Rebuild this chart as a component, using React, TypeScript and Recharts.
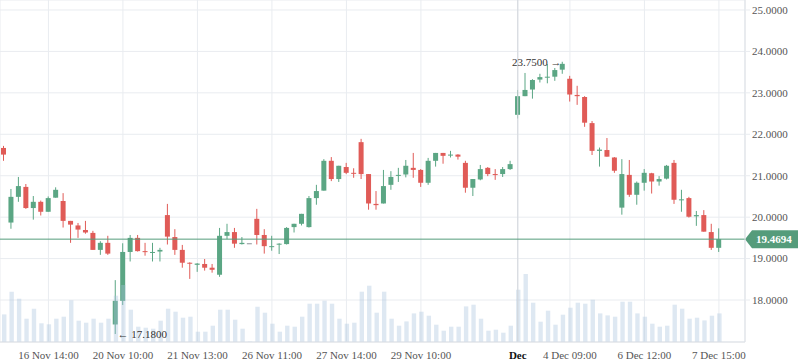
import {
  ComposedChart,
  Bar,
  XAxis,
  YAxis,
  CartesianGrid,
  ReferenceLine,
  ReferenceDot,
} from "recharts";

const UP = "#5ba684";
const DOWN = "#e05b57";
const FLAT = "#8d9299";
const LINE = "#559c7b";
const GRID = "#e9ecf0";
const AXIS = "#dde1e6";
const TEXT = "#555";
const FONT = "'Liberation Serif', 'Times New Roman', serif";
const LAST_PRICE = 19.4694;

const opens = [
  21.67, 19.87, 20.49, 20.73, 20.22, 20.37, 20.13, 20.47, 20.39, 19.91,
  19.8, 19.69, 19.62, 19.21, 19.38, 17.41, 17.98, 19.16, 19.5, 19.18,
  19.14, 19.17, 20.05, 19.52, 19.21, 18.9, 18.85, 18.87, 18.78, 18.61,
  19.55, 19.64, 19.35, 19.37, 19.96, 19.57, 19.28, 19.34, 19.35, 19.76,
  19.84, 19.76, 20.46, 20.64, 21.36, 20.92, 21.21, 21.07, 21.81, 21.04,
  20.32, 20.33, 20.78, 21.0, 21.03, 21.19, 21.14, 20.83, 21.36, 21.55,
  21.49, 21.51, 21.31, 20.71, 20.91, 21.19, 21.04, 21.04, 21.16, 22.47,
  22.92, 23.08, 23.32, 23.38, 23.39, 23.56, 23.34, 22.95, 22.9, 22.27,
  21.6, 21.62, 21.44, 20.23, 21.02, 20.54, 20.83, 21.06, 20.86, 20.93,
  21.31, 20.41, 20.46, 20.02, 20.05, 19.64, 19.26,
];
const highs = [
  21.72, 20.68, 20.97, 20.8, 20.51, 20.4, 20.5, 20.72, 20.58, 19.91,
  19.86, 19.91, 19.67, 19.42, 19.55, 18.48, 19.37, 19.57, 19.57, 19.38,
  19.38, 19.26, 20.32, 19.71, 19.33, 18.91, 18.89, 18.99, 18.87, 19.74,
  19.84, 19.74, 19.52, 19.37, 20.2, 19.71, 19.55, 19.37, 19.76, 19.84,
  20.08, 20.51, 20.78, 21.4, 21.45, 21.24, 21.31, 21.18, 21.89, 21.04,
  20.63, 21.14, 21.11, 21.19, 21.38, 21.55, 21.16, 21.43, 21.55, 21.55,
  21.6, 21.52, 21.36, 20.92, 21.26, 21.21, 21.16, 21.21, 21.36, 23.07,
  23.48, 23.33, 23.46, 23.7, 23.6, 23.75, 23.41, 23.17, 22.92, 22.32,
  21.68, 21.91, 21.45, 21.4, 21.38, 20.86, 21.16, 21.07, 20.99, 21.26,
  21.38, 20.66, 20.49, 20.15, 20.17, 19.84, 19.73,
];
const lows = [
  21.36, 19.72, 20.37, 20.2, 19.94, 20.04, 20.13, 20.47, 19.75, 19.38,
  19.5, 19.6, 19.21, 19.09, 19.09, 17.18, 17.88, 18.93, 19.17, 19.07,
  18.93, 18.93, 19.34, 19.09, 18.78, 18.51, 18.68, 18.71, 18.66, 18.56,
  19.47, 19.26, 19.34, 19.37, 19.34, 19.12, 19.19, 19.11, 19.34, 19.63,
  19.8, 19.75, 20.3, 20.64, 20.87, 20.85, 21.04, 20.95, 20.92, 20.18,
  20.18, 20.33, 20.66, 20.85, 20.96, 20.95, 20.73, 20.78, 21.22, 21.29,
  21.44, 21.39, 20.59, 20.51, 20.89, 20.99, 20.9, 20.97, 21.14, 22.38,
  22.92, 22.86, 23.25, 23.23, 23.29, 23.46, 22.79, 22.71, 22.18, 21.5,
  21.22, 21.46, 21.07, 20.06, 20.49, 20.3, 20.64, 20.57, 20.76, 20.91,
  20.32, 20.13, 19.99, 19.79, 19.65, 19.21, 19.16,
];
const closes = [
  21.51, 20.49, 20.75, 20.22, 20.37, 20.13, 20.46, 20.66, 19.91, 19.82,
  19.7, 19.63, 19.21, 19.38, 19.12, 17.98, 19.16, 19.5, 19.18, 19.17,
  19.16, 19.21, 19.53, 19.21, 18.9, 18.88, 18.88, 18.78, 18.73, 19.55,
  19.64, 19.36, 19.38, 19.37, 19.57, 19.3, 19.3, 19.36, 19.74, 19.84,
  20.08, 20.46, 20.63, 21.36, 20.92, 21.24, 21.07, 21.05, 21.04, 20.33,
  20.29, 20.75, 20.97, 21.02, 21.24, 21.14, 20.83, 21.36, 21.55, 21.48,
  21.51, 21.46, 20.71, 20.92, 21.16, 21.04, 21.03, 21.16, 21.28, 22.92,
  23.07, 23.31, 23.38, 23.39, 23.55, 23.7, 22.96, 22.92, 22.28, 21.6,
  21.63, 21.46, 21.12, 21.04, 20.54, 20.83, 21.07, 20.86, 20.92, 21.24,
  20.42, 20.43, 20.01, 20.05, 19.65, 19.26, 19.4694,
];
// volume in thousands
const volumes = [
  276, 503, 433, 233, 333, 187, 177, 233, 253, 417,
  213, 193, 233, 193, 233, 463, 570, 323, 153, 143,
  133, 213, 333, 303, 243, 253, 103, 103, 163, 323,
  323, 223, 133, 5, 353, 293, 183, 103, 163, 153,
  253, 383, 383, 413, 383, 233, 183, 193, 503, 563,
  293, 503, 233, 163, 206, 286, 303, 263, 173, 113,
  153, 153, 356, 373, 233, 113, 123, 93, 163, 523,
  680, 393, 203, 313, 173, 273, 343, 393, 383, 423,
  286, 266, 253, 403, 403, 286, 253, 183, 153, 163,
  373, 333, 233, 243, 216, 263, 286,
];

const tickIndex = [6, 16, 26, 36, 46, 56, 69, 76, 86, 96];
const tickLabels = [
  "16 Nov 14:00",
  "20 Nov 10:00",
  "21 Nov 13:00",
  "26 Nov 11:00",
  "27 Nov 14:00",
  "29 Nov 10:00",
  "Dec",
  "4 Dec 09:00",
  "6 Dec 12:00",
  "7 Dec 15:00",
];
const priceTicks = [18, 19, 20, 21, 22, 23, 24, 25];

const SLOTS = 100;
const data = Array.from({ length: SLOTS }, (_, i) =>
  i < opens.length
    ? { i, open: opens[i], high: highs[i], low: lows[i], close: closes[i], vol: volumes[i] }
    : { i }
);

function Candle(props: any) {
  const { x, y, width, height, payload } = props;
  if (payload == null || payload.open == null) return null;
  const { open, high, low, close } = payload;
  const top = Math.min(y, y + height);
  const span = Math.abs(height);
  const py = (v: number) => (high === low ? top : top + ((high - v) / (high - low)) * span);
  const color = close > open ? UP : close < open ? DOWN : FLAT;
  const cx = x + width / 2;
  const bTop = py(Math.max(open, close));
  const bH = Math.max(1, py(Math.min(open, close)) - bTop);
  return (
    <g>
      <line x1={cx} x2={cx} y1={py(high)} y2={py(low)} stroke={color} strokeWidth={1} />
      <rect x={x} y={bTop} width={width} height={bH} fill={color} />
    </g>
  );
}

function XTick(props: any) {
  const { x, y, payload } = props;
  const label = tickLabels[tickIndex.indexOf(payload.value)];
  const month = label === "Dec";
  return (
    <text
      x={x}
      y={y}
      dy="0.71em"
      textAnchor="middle"
      fontSize={11}
      fontFamily={FONT}
      fill={month ? "#111" : TEXT}
      fontWeight={month ? "bold" : "normal"}
    >
      {label}
    </text>
  );
}

function PriceTag(props: any) {
  const vb = props.viewBox;
  const x = vb.x + vb.width;
  const y = vb.y;
  return (
    <g>
      <polygon
        points={`${x},${y} ${x + 7},${y - 9} ${x + 53},${y - 9} ${x + 53},${y + 9} ${x + 7},${y + 9}`}
        fill={LINE}
      />
      <text x={x + 11} y={y} dominantBaseline="central" fontSize={11} fontFamily={FONT} fontWeight="bold" fill="#fff">
        {LAST_PRICE.toFixed(4)}
      </text>
    </g>
  );
}

export default function App() {
  return (
    <div style={{ fontFamily: FONT }}>
      <style>{`body{margin:0}`}</style>
      <ComposedChart
        width={798}
        height={363}
        data={data}
        margin={{ top: 0, right: 0, left: 0, bottom: 0 }}
        style={{ fontFamily: FONT }}
      >
        <CartesianGrid xAxisId="main" yAxisId="price" stroke={GRID} strokeWidth={1} />
        <XAxis
          xAxisId="main"
          dataKey="i"
          type="category"
          ticks={tickIndex}
          interval={0}
          height={21}
          tickLine={false}
          tickSize={6}
          tickMargin={3}
          axisLine={{ stroke: AXIS }}
          tick={<XTick />}
        />
        <XAxis xAxisId="vol" dataKey="i" type="category" hide />
        <YAxis
          yAxisId="price"
          orientation="right"
          width={53}
          domain={[16.987, 25.241]}
          allowDataOverflow
          ticks={priceTicks}
          tickFormatter={(v: number) => v.toFixed(4)}
          tick={{ fontSize: 11, fill: TEXT, fontFamily: FONT }}
          tickLine={{ stroke: GRID }}
          tickSize={5}
          tickMargin={2}
          axisLine={{ stroke: AXIS }}
        />
        <YAxis yAxisId="vol" hide domain={[0, 3420]} />
        <ReferenceLine xAxisId="main" yAxisId="price" x={69} stroke="#d2d6dc" />
        <Bar
          xAxisId="main"
          yAxisId="price"
          dataKey={(d: any) => (d.low == null ? null : [d.low, d.high])}
          barSize={5}
          shape={<Candle />}
          isAnimationActive={false}
        />
        <Bar
          xAxisId="vol"
          yAxisId="vol"
          dataKey="vol"
          barSize={4.4}
          fill="#a9c3dd"
          fillOpacity={0.38}
          isAnimationActive={false}
        />
        <ReferenceLine
          xAxisId="main"
          yAxisId="price"
          y={LAST_PRICE}
          stroke={LINE}
          strokeWidth={1}
          label={<PriceTag />}
        />
        <ReferenceDot
          xAxisId="main"
          yAxisId="price"
          x={75}
          y={23.75}
          r={0}
          shape={(p: any) => (
            <text
              x={p.cx - 1}
              y={p.cy}
              textAnchor="end"
              dominantBaseline="central"
              fontSize={11}
              fontFamily={FONT}
              fill="#333"
            >
              23.7500 →
            </text>
          )}
        />
        <ReferenceDot
          xAxisId="main"
          yAxisId="price"
          x={15}
          y={17.18}
          r={0}
          shape={(p: any) => (
            <text
              x={p.cx + 2}
              y={p.cy}
              textAnchor="start"
              dominantBaseline="central"
              fontSize={11}
              fontFamily={FONT}
              fill="#333"
            >
              ← 17.1800
            </text>
          )}
        />
      </ComposedChart>
    </div>
  );
}
